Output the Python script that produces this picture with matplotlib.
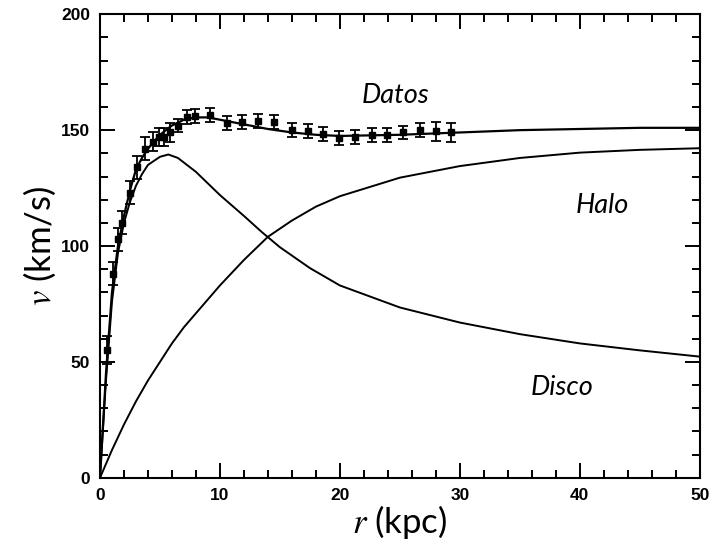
import matplotlib
matplotlib.use("Agg")
from matplotlib import pyplot as plt
from matplotlib.ticker import MultipleLocator

plt.rcParams['mathtext.fontset'] = 'stix'

# measured rotation velocities (r in kpc, v in km/s)
r_data = [0.6, 1.1, 1.5, 1.8, 2.5, 3.1, 3.75, 4.4, 4.9, 5.3, 5.8, 6.5, 7.25, 7.9,
          9.2, 10.6, 11.8, 13.2, 14.5, 16.0, 17.3, 18.6, 19.9, 21.3, 22.7, 23.9,
          25.3, 26.7, 28.0, 29.3]
v_data = [55, 88, 103, 110, 123, 134, 142, 145, 147, 147, 149, 152, 155.5, 156,
          156.5, 153, 153.5, 154, 153.5, 150, 149.5, 148.5, 146.5, 147, 148, 148,
          149, 150, 149.5, 149]
v_err = [6, 5, 5, 5, 5, 5, 5, 4, 4, 4, 4, 3, 3, 3,
         3, 3, 3, 3, 3, 3, 3, 3, 3, 3, 3, 3,
         3, 3, 4, 4]

# fitted total curve
r_fit = [0, 0.5, 1, 1.5, 2, 2.5, 3, 3.5, 4, 5, 6, 7, 8, 9, 10, 12, 14, 16, 18,
         20, 25, 30, 35, 40, 45, 50]
v_fit = [0, 45, 80, 100, 113, 124, 133, 138, 142, 148, 152, 154.5, 155.5, 155.5,
         154.5, 152.5, 150.5, 149, 148, 147.5, 148, 149, 150, 150.5, 151, 151]

# disc component
r_disk = [0, 0.5, 1, 1.5, 2, 2.5, 3, 3.5, 4, 5, 5.7, 6.5, 8, 10, 12, 13.5, 15,
          17.5, 20, 25, 30, 35, 40, 45, 50]
v_disk = [0, 42, 76, 97, 110, 119, 126, 131, 135, 138.5, 139.5, 138, 132, 122,
          113, 106, 99.5, 90.5, 83, 73.5, 67, 62, 58, 55, 52.3]

# halo component
r_halo = [0, 1, 2, 3, 4, 5, 6, 7, 8, 10, 12, 14, 16, 18, 20, 25, 30, 35, 40, 45, 50]
v_halo = [0, 12, 23, 33, 42, 50, 58, 65, 71, 83, 94, 104, 111, 117, 121.5, 129.5,
          134.5, 138, 140.3, 141.5, 142.2]

fig = plt.figure(figsize=(7.09, 5.48), dpi=100)
ax = fig.add_axes([0.141, 0.128, 0.846, 0.846])

ax.plot(r_fit, v_fit, color='black', lw=1.6)
ax.plot(r_disk, v_disk, color='black', lw=1.4)
ax.plot(r_halo, v_halo, color='black', lw=1.4)
ax.errorbar(r_data, v_data, yerr=v_err, fmt='s', color='black', ms=4.5,
            elinewidth=1.3, capsize=3.5, capthick=1.3)

ax.set_xlim(0, 50)
ax.set_ylim(0, 200)
ax.xaxis.set_major_locator(MultipleLocator(10))
ax.xaxis.set_minor_locator(MultipleLocator(2))
ax.yaxis.set_major_locator(MultipleLocator(50))
ax.yaxis.set_minor_locator(MultipleLocator(10))
ax.tick_params(which='both', direction='in', top=True, right=True, width=1.4)
ax.tick_params(which='major', length=11, pad=7)
ax.tick_params(which='minor', length=6)
for s in ax.spines.values():
    s.set_linewidth(1.5)
for lab in ax.get_xticklabels() + ax.get_yticklabels():
    lab.set_fontweight('bold')
    lab.set_fontsize(12.5)
    lab.set_fontfamily('Liberation Sans')

ax.set_xlabel(r'$r$ (kpc)', fontsize=25, family='Lato', labelpad=0)
ax.set_ylabel(r'$v$ (km/s)', fontsize=25, family='Lato', labelpad=2)

ax.text(24.6, 165, 'Datos', style='italic', fontsize=19.5, family='Lato', ha='center', va='center')
ax.text(41.9, 117.7, 'Halo', style='italic', fontsize=19.5, family='Lato', ha='center', va='center')
ax.text(38.5, 38.8, 'Disco', style='italic', fontsize=19.5, family='Lato', ha='center', va='center')

fig.savefig('out.png', dpi=100)
